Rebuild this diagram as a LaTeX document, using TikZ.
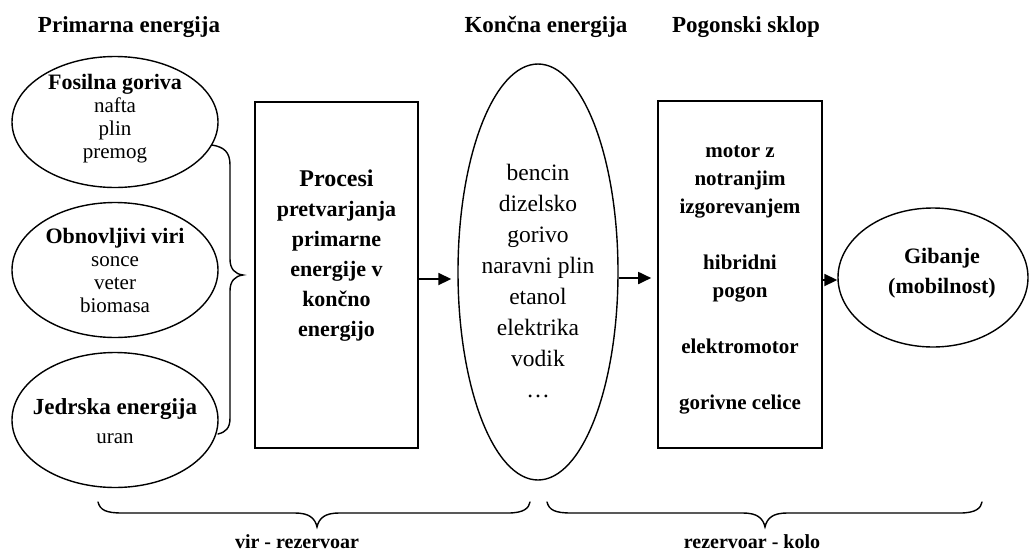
\documentclass[tikz,border=0pt]{standalone}
\usepackage{fontspec}
\setmainfont{Liberation Serif}
\usetikzlibrary{shapes.geometric,arrows.meta}
\tikzset{
  oval/.style={draw, ellipse, line width=1.4pt, inner sep=0pt},
  blk/.style={draw, rectangle, line width=1.6pt, inner sep=0pt},
  txt/.style={align=center, inner sep=0pt},
  title/.style={anchor=base, inner sep=0pt, font=\fontsize{23}{27}\selectfont\bfseries},
  foot/.style={anchor=base, inner sep=0pt, font=\fontsize{20}{24}\selectfont\bfseries},
  arr/.style={line width=1.8pt, -{Triangle[length=13pt,width=12pt]}},
  brace/.style={line width=1.4pt, line cap=round}
}
\begin{document}
\begin{tikzpicture}[x=1pt,y=-1pt]
\useasboundingbox (0,0) rectangle (1031,552);

% titles
\node[title] (t1) at (129,32) {Primarna energija};
\node[title] (t2) at (546,32) {Končna energija};
\node[title] (t3) at (746,32) {Pogonski sklop};

% primary energy ellipses
\node[oval, minimum width=206pt, minimum height=131pt] (e1) at (115,122) {};
\node[txt, font=\fontsize{21}{23}\selectfont] (e1t) at (115,119)
  {{\fontsize{22}{23}\selectfont\bfseries Fosilna goriva}\\nafta\\plin\\premog};
\node[oval, minimum width=206pt, minimum height=135pt] (e2) at (115,270) {};
\node[txt, font=\fontsize{21}{23}\selectfont] (e2t) at (115,270)
  {{\fontsize{22}{23}\selectfont\bfseries Obnovljivi viri}\\sonce\\veter\\biomasa};
\node[oval, minimum width=206pt, minimum height=135pt] (e3) at (115,420) {};
\node[txt, font=\fontsize{21}{29}\selectfont] (e3t) at (115,421)
  {{\fontsize{23}{29}\selectfont\bfseries Jedrska energija}\\uran};

% left brace
\coordinate (b1) at (212,145);
\coordinate (b2) at (218,434);
\draw[brace] (b1) .. controls (224,147) and (230,152) .. (230,165) -- (230,259)
  .. controls (230,269) and (235,274) .. (243,275)
  .. controls (235,276) and (230,281) .. (230,291) -- (230,418)
  .. controls (230,428) and (226,432) .. (b2);

% conversion box
\node[blk, minimum width=163pt, minimum height=346pt] (box1) at (336.5,275) {};
\node[txt, font=\fontsize{22}{30}\selectfont\bfseries] (box1t) at (336.5,256)
  {{\fontsize{24}{30}\selectfont Procesi}\\pretvarjanja\\primarne\\energije v\\končno\\energijo};

% final energy ellipse
\node[oval, minimum width=160pt, minimum height=416pt] (fin) at (538,272) {};
\node[txt, font=\fontsize{23.5}{31.1}\selectfont] (fint) at (538,281)
  {bencin\\dizelsko\\gorivo\\naravni plin\\etanol\\elektrika\\vodik\\…};

% drive box
\node[blk, minimum width=164pt, minimum height=347pt] (box2) at (740,274.5) {};
\node[txt, font=\fontsize{21}{28}\selectfont\bfseries] (box2t) at (740,280)
  {motor z\\notranjim\\izgorevanjem\\[28pt]hibridni\\pogon\\[28pt]elektromotor\\[28pt]gorivne celice};

% motion ellipse
\node[oval, minimum width=190pt, minimum height=139pt] (gib) at (933,277.5) {};
\node[txt, font=\fontsize{22}{30}\selectfont\bfseries] (gibt) at (942,273)
  {Gibanje\\(mobilnost)};

% arrows
\draw[arr, shorten >=6pt] ([yshift=-4pt]box1.east) -- ([yshift=-4pt]box1.east -| fin.west);
\draw[arr, shorten >=6pt] ([yshift=-6pt]fin.east) -- ([yshift=-6pt]fin.east -| box2.west);
\draw[arr] ([yshift=-5.5pt]box2.east) -- ([yshift=-5.5pt]box2.east -| gib.west);

% bottom braces
\coordinate (l1) at (98,502);
\coordinate (l2) at (530,502);
\coordinate (r1) at (547,502);
\coordinate (r2) at (982,502);
\draw[brace] (l1) .. controls (100,510) and (106,513) .. (122,513) -- (295,513)
  .. controls (309,513) and (315,518) .. (317,527)
  .. controls (319,518) and (325,513) .. (339,513) -- (508,513)
  .. controls (524,513) and (529,508) .. (l2);
\draw[brace] (r1) .. controls (549,510) and (555,513) .. (571,513) -- (743,513)
  .. controls (757,513) and (763,518) .. (765,527)
  .. controls (767,518) and (773,513) .. (787,513) -- (960,513)
  .. controls (976,513) and (981,508) .. (r2);

\node[foot] (f1) at (297,548) {vir - rezervoar};
\node[foot] (f2) at (752,548) {rezervoar - kolo};
\end{tikzpicture}
\end{document}
